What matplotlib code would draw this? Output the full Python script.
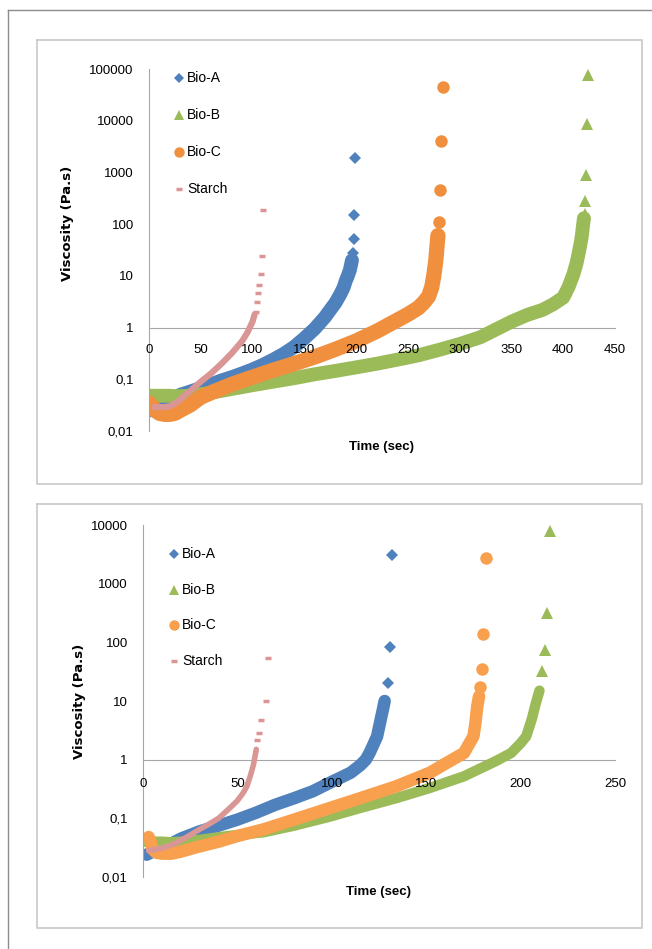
import matplotlib
matplotlib.use("Agg")
import matplotlib.pyplot as plt
from matplotlib.lines import Line2D

# ---------------- data: top panel ----------------
top_bioA_t = [0, 5, 10, 20, 30, 40, 50, 60, 70, 80, 90, 100, 110, 120, 130, 140, 150, 160, 170, 175, 180, 185, 188, 190, 192, 194, 196]
top_bioA_v = [0.025, 0.03, 0.034, 0.04, 0.05, 0.058, 0.068, 0.08, 0.095, 0.11, 0.13, 0.155, 0.19, 0.24, 0.31, 0.42, 0.62, 0.95, 1.6, 2.2, 3.0, 4.5, 6.0, 8.0, 10.0, 13.0, 20.0]
top_bioA_tail_t = [197, 198, 198.3, 199]
top_bioA_tail_v = [28, 52, 150, 1900]

top_bioB_t = [0, 10, 20, 25, 40, 60, 80, 100, 120, 140, 160, 180, 200, 220, 240, 260, 280, 300, 320, 335, 350, 365, 380, 390, 400, 405, 410, 413, 415, 417, 418, 419, 420]
top_bioB_v = [0.048, 0.048, 0.048, 0.047, 0.048, 0.055, 0.065, 0.077, 0.09, 0.105, 0.125, 0.145, 0.17, 0.2, 0.24, 0.29, 0.37, 0.48, 0.65, 0.92, 1.3, 1.75, 2.2, 2.8, 3.8, 6.0, 11, 18, 28, 45, 60, 90, 130]
top_bioB_tail_t = [421, 421.4, 421.8, 423, 424]
top_bioB_tail_v = [160, 280, 900, 8500, 75000]

top_bioC_t = [0, 3, 6, 10, 15, 20, 25, 30, 40, 50, 60, 80, 100, 120, 140, 160, 180, 200, 220, 240, 250, 260, 265, 270, 273, 275, 277, 278, 279]
top_bioC_v = [0.035, 0.03, 0.025, 0.022, 0.021, 0.021, 0.022, 0.025, 0.032, 0.045, 0.055, 0.08, 0.11, 0.15, 0.2, 0.27, 0.38, 0.55, 0.85, 1.4, 1.8, 2.4, 3.0, 4.0, 6.0, 10, 20, 35, 60]
top_bioC_tail_t = [280, 281, 282, 284]
top_bioC_tail_v = [110, 450, 4000, 45000]

top_starch_t = [5, 10, 15, 20, 25, 30, 35, 40, 50, 60, 70, 80, 90, 95, 100, 102]
top_starch_v = [0.029, 0.029, 0.029, 0.03, 0.034, 0.04, 0.05, 0.06, 0.09, 0.13, 0.2, 0.32, 0.55, 0.8, 1.3, 1.8]
top_starch_tail_t = [103.5, 104.5, 105.5, 106.5, 108, 109.5, 110.5]
top_starch_tail_v = [2.0, 3.1, 4.6, 6.6, 10.8, 24, 190]

# ---------------- data: bottom panel ----------------
bot_bioA_t = [2, 5, 10, 15, 20, 30, 40, 50, 60, 70, 80, 90, 100, 105, 110, 115, 118, 120, 122, 124, 126, 127, 128]
bot_bioA_v = [0.024, 0.027, 0.032, 0.037, 0.045, 0.06, 0.075, 0.095, 0.125, 0.17, 0.22, 0.29, 0.42, 0.5, 0.6, 0.8, 1.0, 1.3, 1.8, 2.5, 5.0, 7.0, 10.0]
bot_bioA_tail_t = [129.7, 130.8, 131.9]
bot_bioA_tail_v = [20, 82, 3100]

bot_bioB_t = [0, 5, 10, 15, 20, 30, 45, 64, 80, 99, 115, 134, 152, 170, 187, 195, 200, 203, 206, 208, 210]
bot_bioB_v = [0.04, 0.04, 0.04, 0.039, 0.04, 0.043, 0.05, 0.058, 0.075, 0.107, 0.15, 0.22, 0.33, 0.52, 0.95, 1.3, 1.9, 2.5, 5.0, 9.0, 15.0]
bot_bioB_tail_t = [211.5, 212.8, 213.9, 215.5]
bot_bioB_tail_v = [33, 74, 315, 7800]

bot_bioC_t = [3, 4, 5, 7, 10, 15, 20, 28, 40, 50, 64, 80, 99, 115, 134, 152, 160, 170, 175, 176, 177, 178]
bot_bioC_v = [0.048, 0.04, 0.03, 0.026, 0.025, 0.025, 0.027, 0.032, 0.04, 0.05, 0.065, 0.095, 0.15, 0.22, 0.35, 0.6, 0.85, 1.3, 2.5, 4.0, 8.0, 12.0]
bot_bioC_tail_t = [178.5, 179.6, 180.3, 181.8]
bot_bioC_tail_v = [17, 35, 137, 2700]

bot_starch_t = [3, 5, 10, 15, 20, 25, 30, 35, 40, 46, 50, 53, 55, 57, 58.5, 60]
bot_starch_v = [0.028, 0.029, 0.031, 0.035, 0.042, 0.052, 0.065, 0.08, 0.1, 0.15, 0.2, 0.27, 0.35, 0.55, 0.82, 1.5]
bot_starch_tail_t = [60.5, 61.6, 62.7, 64.9, 66]
bot_starch_tail_v = [2.2, 2.9, 4.8, 10, 54]

series_names = ["Bio-A", "Bio-B", "Bio-C", "Starch"]
top_xticks = [0, 50, 100, 150, 200, 250, 300, 350, 400, 450]
top_yticks = [0.01, 0.1, 1, 10, 100, 1000, 10000, 100000]
top_ylabels = ["0,01", "0,1", "1", "10", "100", "1000", "10000", "100000"]
bot_xticks = [0, 50, 100, 150, 200, 250]
bot_yticks = [0.01, 0.1, 1, 10, 100, 1000, 10000]
bot_ylabels = ["0,01", "0,1", "1", "10", "100", "1000", "10000"]

# ---------------- style ----------------
W, H = 652, 949
C_A = "#4f81bd"
C_B = "#9bbb59"
C_C_top = "#f0903f"
C_C_bot = "#f9a04e"
C_S = "#d99694"
TICKFONT = "Liberation Sans"

fig = plt.figure(figsize=(W / 100, H / 100), dpi=100)
fig.patch.set_facecolor("white")


def fx(px):
    return px / W


def fy(py):
    return 1 - py / H


# frames
fig.add_artist(Line2D([fx(8), fx(652)], [fy(10), fy(10)], color="#8c8c8c", lw=1.0))
fig.add_artist(Line2D([fx(8), fx(8)], [fy(10), fy(949)], color="#8c8c8c", lw=1.0))
for (l, t, r, b) in [(37, 40, 642, 484), (37, 504, 642, 928)]:
    fig.add_artist(Line2D([fx(l), fx(r), fx(r), fx(l), fx(l)],
                          [fy(t), fy(t), fy(b), fy(b), fy(t)], color="#c8c8c8", lw=1.2))


def make_axes(l, r, top, bottom, xmax, ymax, xticks, yticks, ylabels, xpad):
    ax = fig.add_axes([fx(l), fy(bottom), fx(r) - fx(l), fy(top) - fy(bottom)])
    ax.set_yscale("log")
    ax.set_xlim(0, xmax)
    ax.set_ylim(0.01, ymax)
    for s in ["top", "right"]:
        ax.spines[s].set_visible(False)
    ax.spines["left"].set_color("#a6a6a6")
    ax.spines["bottom"].set_color("#a6a6a6")
    ax.spines["bottom"].set_position(("data", 1))
    ax.spines["bottom"].set_zorder(1)
    ax.set_xticks(xticks)
    ax.set_xticklabels([str(x) for x in xticks])
    ax.set_yticks(yticks)
    ax.set_yticklabels(ylabels)
    ax.yaxis.set_minor_locator(matplotlib.ticker.NullLocator())
    ax.tick_params(axis="both", length=0, labelsize=9.5, colors="#000000")
    ax.tick_params(axis="x", pad=xpad)
    ax.tick_params(axis="y", pad=11)
    for lab in ax.get_xticklabels() + ax.get_yticklabels():
        lab.set_fontfamily(TICKFONT)
    ax.set_axisbelow(False)
    ax.patch.set_alpha(0)
    return ax


def draw_series(ax, t, v, tt, tv, color, marker, ms, lw, mew=0.0):
    ax.plot(t, v, color=color, lw=lw, solid_capstyle="round", solid_joinstyle="round", zorder=2)
    ax.plot(tt, tv, ls="none", marker=marker, ms=ms, color=color, mec=color, mew=mew, zorder=2)


# ---------------- top panel ----------------
ax1 = make_axes(149, 615, 69, 431, 450, 100000, top_xticks, top_yticks, top_ylabels, 12)
draw_series(ax1, top_bioA_t, top_bioA_v, top_bioA_tail_t, top_bioA_tail_v, C_A, "D", 6, 10)
draw_series(ax1, top_bioB_t, top_bioB_v, top_bioB_tail_t, top_bioB_tail_v, C_B, "^", 8, 10)
draw_series(ax1, top_bioC_t, top_bioC_v, top_bioC_tail_t, top_bioC_tail_v, C_C_top, "o", 9, 11)
draw_series(ax1, top_starch_t, top_starch_v, top_starch_tail_t, top_starch_tail_v, C_S, "_", 5, 4.5, mew=2.5)

fig.text(fx(68), fy(223), "Viscosity (Pa.s)", rotation=90, ha="center", va="center",
         fontsize=9.5, fontweight="bold", family="DejaVu Sans")
fig.text(fx(382), fy(447), "Time (sec)", ha="center", va="center",
         fontsize=9.5, fontweight="bold", family=TICKFONT)

# ---------------- bottom panel ----------------
ax2 = make_axes(143, 615, 525, 877, 250, 10000, bot_xticks, bot_yticks, bot_ylabels, 13)
draw_series(ax2, bot_bioA_t, bot_bioA_v, bot_bioA_tail_t, bot_bioA_tail_v, C_A, "D", 6, 9)
draw_series(ax2, bot_bioB_t, bot_bioB_v, bot_bioB_tail_t, bot_bioB_tail_v, C_B, "^", 8, 7.5)
draw_series(ax2, bot_bioC_t, bot_bioC_v, bot_bioC_tail_t, bot_bioC_tail_v, C_C_bot, "o", 9, 9)
draw_series(ax2, bot_starch_t, bot_starch_v, bot_starch_tail_t, bot_starch_tail_v, C_S, "_", 5, 4, mew=2.5)

fig.text(fx(79), fy(701), "Viscosity (Pa.s)", rotation=90, ha="center", va="center",
         fontsize=9.5, fontweight="bold", family="DejaVu Sans")
fig.text(fx(378), fy(892), "Time (sec)", ha="center", va="center",
         fontsize=9.5, fontweight="bold", family=TICKFONT)


# ---------------- legends ----------------
def legend(mx, ys, cC, tx):
    specs = [(C_A, "D", 5), (C_B, "^", 7), (cC, "o", 7.5), (C_S, "_", 5)]
    for (c, m, ms), name, y in zip(specs, series_names, ys):
        mew = 2.5 if m == "_" else 0
        fig.add_artist(Line2D([fx(mx)], [fy(y)], marker=m, ms=ms, color=c, mec=c, mew=mew, ls="none"))
        fig.text(fx(tx), fy(y), name, ha="left", va="center", fontsize=10, family=TICKFONT)


legend(179, [78, 115, 152, 189], C_C_top, 187)
legend(174, [554, 590, 625, 661], C_C_bot, 182)

fig.savefig("out.png", dpi=100, facecolor="white")
